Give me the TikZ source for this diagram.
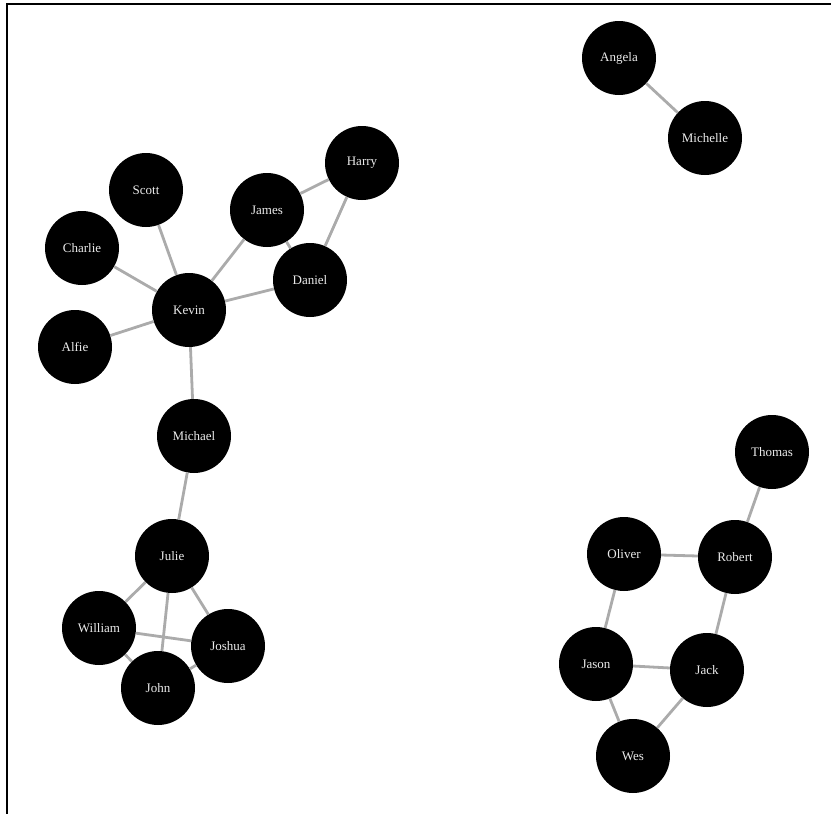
\documentclass[tikz,border=0pt]{standalone}
\usepackage{fontspec}
\setmainfont{Liberation Serif}
\usepackage{xcolor}
\usepackage{tikz}

\begin{document}
\begin{tikzpicture}[
    x=1pt, y=-1pt,
    every node/.style={font=\fontsize{13}{15}\selectfont},
    person/.style={
        circle,
        fill=black,
        text=white!92!black,
        minimum size=74pt,
        inner sep=0pt
    },
    link/.style={draw=black!33, line width=2.8pt},
    frame/.style={draw=black, line width=1.6pt}
]
\useasboundingbox (0,0) rectangle (831,814);
\draw[frame] (831,4) -- (7,4) -- (7,814);

% Nodes
\node[person] (angela) at (619,58) {Angela};
\node[person] (michelle) at (705,138) {Michelle};
\node[person] (harry) at (362,163) {Harry};
\node[person] (scott) at (146,190) {Scott};
\node[person] (james) at (267,210) {James};
\node[person] (charlie) at (82,248) {Charlie};
\node[person] (daniel) at (310,280) {Daniel};
\node[person] (kevin) at (189,310) {Kevin};
\node[person] (alfie) at (75,347) {Alfie};
\node[person] (michael) at (194,436) {Michael};
\node[person] (thomas) at (772,452) {Thomas};
\node[person] (julie) at (172,556) {Julie};
\node[person] (oliver) at (624,554) {Oliver};
\node[person] (robert) at (735,557) {Robert};
\node[person] (william) at (99,628) {William};
\node[person] (joshua) at (228,646) {Joshua};
\node[person] (john) at (158,688) {John};
\node[person] (jason) at (596,664) {Jason};
\node[person] (jack) at (707,670) {Jack};
\node[person] (wes) at (633,756) {Wes};

% Links
\foreach \a/\b in {angela/michelle, harry/james, harry/daniel, james/daniel,
    james/kevin, scott/kevin, charlie/kevin, alfie/kevin, daniel/kevin,
    kevin/michael, michael/julie, julie/william, julie/john, julie/joshua,
    william/joshua, william/john, john/joshua, thomas/robert, oliver/robert,
    oliver/jason, robert/jack, jason/jack, jason/wes, jack/wes}
    \draw[link] (\a) -- (\b);

\end{tikzpicture}
\end{document}
